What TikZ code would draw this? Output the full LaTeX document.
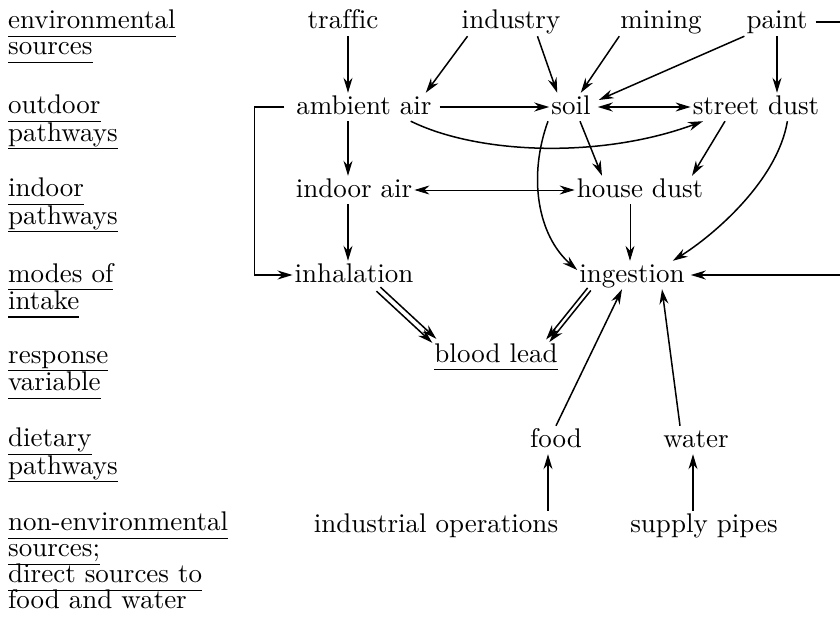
\documentclass[tikz,border=0pt]{standalone}
\usepackage{fontspec}
\setmainfont{lmroman10-regular.otf}[Ligatures=NoCommon]
\usepackage{tikz}
\usetikzlibrary{arrows.meta,positioning}
\newcommand{\ul}[1]{\setbox0=\hbox{#1}\rlap{\smash{\rule[-8pt]{\wd0}{1.4pt}}}\box0}

\begin{document}
\begin{tikzpicture}[x=1pt,y=-1pt]
\tikzstyle{every node}=[font=\fontsize{27}{26}\selectfont]
\tikzstyle{item}=[inner sep=2pt, text height=19pt, text depth=5pt]
\tikzstyle{rowname}=[anchor=north west, inner sep=0pt, align=left]
\tikzstyle{arr}=[-{Stealth[length=15pt,width=9pt]}, line width=1.5pt]
\tikzstyle{twoway}=[{Stealth[length=15pt,width=9pt]}-{Stealth[length=15pt,width=9pt]}, line width=1.5pt]
\tikzstyle{thinarr}=[arr, line width=0.8pt]

\clip (0,0) rectangle (840,623);

% row names
\node[rowname] (lenv) at (8,10) {\strut\ul{environmental}\\\ul{sources}};
\node[rowname] (lout) at (8,95) {\strut\ul{outdoor}\\\ul{pathways}};
\node[rowname] (lin) at (8,178) {\strut\ul{indoor}\\\ul{pathways}};
\node[rowname] (lmodes) at (8,263) {\strut\ul{modes of}\\\ul{intake}};
\node[rowname] (lresp) at (8,345) {\strut\ul{response}\\\ul{variable}};
\node[rowname] (ldiet) at (8,428) {\strut\ul{dietary}\\\ul{pathways}};
\node[rowname] (lnonenv) at (8,512) {\strut\ul{non-environmental}\\\ul{sources;}\\\ul{direct sources to}\\food and water};

% sources
\node[item] (traffic) at (343,22) {traffic};
\node[item] (industry) at (511,22) {industry};
\node[item] (mining) at (661,22) {mining};
\node[item] (paint) at (777,22) {paint};

% pathways
\node[item] (ambient) at (364,107) {ambient air};
\node[item] (soil) at (571,107) {soil};
\node[item] (street) at (756,107) {street dust};
\node[item] (indoor) at (354,190) {indoor air};
\node[item] (house) at (640,190) {house dust};

% intake
\node[item] (inhal) at (354,275) {inhalation};
\node[item] (ingest) at (632,275) {ingestion};
\node[item] (blood) at (496,355) {\ul{blood lead}};

% diet
\node[item] (food) at (556,440) {food};
\node[item] (water) at (696,440) {water};
\node[item] (indops) at (436,525) {industrial operations};
\node[item] (pipes) at (704,525) {supply pipes};

\draw[arr] ([xshift=5]traffic.south) -- ([xshift=-16]ambient.north);
\draw[arr] ([xshift=8]industry.south west) -- ([xshift=-8]ambient.north east);
\draw[arr] ([xshift=-25]industry.south east) -- ([xshift=8]soil.north west);
\draw[arr] ([xshift=1]mining.south west) -- ([xshift=-12]soil.north east);
\draw[arr] (paint.south west) -- ([shift={(6,-7)}]soil.east);
\draw[arr] (paint.south) -- ([xshift=21]street.north);
\draw[arr] ([xshift=6]paint.east) -- ++(60,0) |- ([xshift=4]ingest.east);

\draw[arr] ([xshift=6]ambient.east) -- (soil.west);
\draw[twoway] ([xshift=5]soil.east) -- (street.west);
\draw[arr] ([xshift=-23]ambient.south east) .. controls +(67,33) and +(-103,38) .. ([xshift=-53]street.south);
\draw[arr] ([xshift=-16]ambient.south) -- ([xshift=-6]indoor.north);
\draw[arr] ([xshift=-10]ambient.west) -- ++(-30,0) |- (inhal.west);

\draw[arr] ([xshift=9]soil.south) -- ([xshift=-38]house.north);
\draw[arr] ([xshift=-31]street.south) -- ([xshift=52]house.north);
\draw[thinarr,{Stealth[length=15pt,width=9pt]}-{Stealth[length=15pt,width=9pt]}] (indoor.east) -- (house.west);
\draw[arr] ([xshift=-6]indoor.south) -- ([xshift=-6]inhal.north);

\draw[arr] ([xshift=-23]soil.south) .. controls +(-20,55) and +(-40,-35) .. ([yshift=5]ingest.west);
\draw[thinarr] ([xshift=-10]house.south) -- ([xshift=-2]ingest.north);
\draw[arr] ([xshift=-34]street.south east) .. controls +(-10,60) and +(40,-25) .. ([xshift=-14]ingest.north east);

% double arrows into blood lead
\draw[arr] ([shift={(-35,-2)}]inhal.south east) -- ([shift={(4,-2)}]blood.north west);
\draw[arr] ([shift={(-39,2)}]inhal.south east) -- ([shift={(0,2)}]blood.north west);
\draw[arr] ([shift={(13.6,1.3)}]ingest.south west) -- ([shift={(-10.4,1.3)}]blood.north east);
\draw[arr] ([shift={(10.4,-1.3)}]ingest.south west) -- ([shift={(-13.6,-1.3)}]blood.north east);

\draw[arr] (food.north) -- ([xshift=-10]ingest.south);
\draw[arr] ([xshift=-16]water.north) -- ([xshift=30]ingest.south);
\draw[arr] ([xshift=112]indops.north) -- ([xshift=-8]food.south);
\draw[arr] ([xshift=-11]pipes.north) -- ([xshift=-3]water.south);

\end{tikzpicture}
\end{document}
